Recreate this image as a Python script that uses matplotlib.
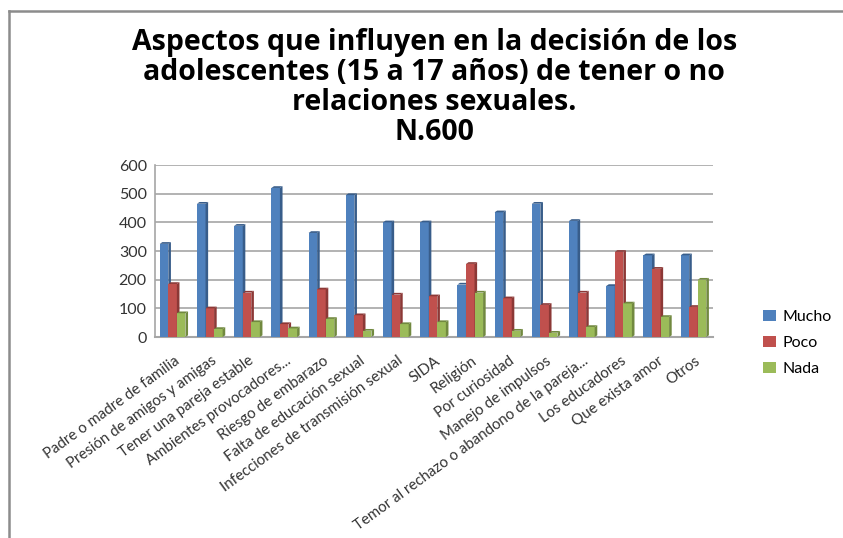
import matplotlib
matplotlib.use('Agg')
import matplotlib.pyplot as plt
from matplotlib.patches import Polygon
from matplotlib.lines import Line2D
import numpy as np

categories = ['Padre o madre de familia', 'Presión de amigos y amigas', 'Tener una pareja estable',
              'Ambientes provocadores...', 'Riesgo de embarazo', 'Falta de educación sexual',
              'Infecciones de transmisión sexual', 'SIDA', 'Religión', 'Por curiosidad',
              'Manejo de impulsos', 'Temor al rechazo o abandono de la pareja...',
              'Los educadores', 'Que exista amor', 'Otros']
mucho = [325, 465, 388, 520, 363, 495, 400, 400, 183, 435, 465, 405, 178, 285, 285]
poco = [185, 100, 155, 45, 166, 76, 148, 142, 255, 135, 112, 155, 297, 238, 105]
nada = [83, 28, 52, 30, 63, 22, 45, 52, 155, 22, 15, 35, 117, 70, 200]
series = ['Mucho', 'Poco', 'Nada']
yticks = [0, 100, 200, 300, 400, 500, 600]

colors = ['#4F81BD', '#C0504D', '#9BBB59']
dark = ['#385D8A', '#8C3836', '#71893F']

plt.rcParams['font.family'] = ['Lato', 'DejaVu Sans']

fig = plt.figure(figsize=(8.43, 5.38), dpi=100)
ax = fig.add_axes([0.184, 0.3736, 0.662, 0.3197])

x = np.arange(len(categories))
w = 0.23
d = 0.07   # depth offset (x)
dy = 6     # depth offset (y)
for k, (vals, c, dc) in enumerate(zip([mucho, poco, nada], colors, dark)):
    xs = x + (k - 1) * w - w / 2 - 0.03
    ax.bar(xs, vals, width=w, align='edge', color=c, edgecolor='none', zorder=3, label=series[k])
    for xi, h in zip(xs, vals):
        side = [(xi + w, 0), (xi + w + d, dy), (xi + w + d, h + dy), (xi + w, h)]
        top = [(xi, h), (xi + d, h + dy), (xi + w + d, h + dy), (xi + w, h)]
        ax.add_patch(Polygon(side, closed=True, color=dc, lw=0, zorder=3))
        ax.add_patch(Polygon(top, closed=True, color=dc, lw=0, zorder=3))

ax.set_xlim(-0.5, len(categories) - 0.5)
ax.set_ylim(0, 600)
ax.set_yticks(yticks)
ax.set_yticklabels([str(v) for v in yticks], fontsize=11.5, color='#333333')
ax.yaxis.grid(True, color='#A6A6A6', lw=1.2, zorder=0)
ax.set_axisbelow(True)
ax.tick_params(axis='both', length=0)
ax.tick_params(axis='y', pad=6)
for s in ['top', 'right']:
    ax.spines[s].set_visible(False)
ax.spines['left'].set_color('#A6A6A6')
ax.spines['bottom'].set_color('#A6A6A6')
ax.spines['left'].set_linewidth(1.2)
ax.spines['bottom'].set_linewidth(1.5)

ax.set_xticks(x)
ax.set_xticklabels(categories, rotation=36, ha='right', rotation_mode='anchor',
                   fontsize=10.8, color='#333333')
ax.tick_params(axis='x', pad=12)

fig.text(0.515, 0.838, 'Aspectos que influyen en la decisión de los\n'
         'adolescentes (15 a 17 años) de tener o no\nrelaciones sexuales.\nN.600',
         ha='center', va='center', fontsize=20.5, fontweight='bold', linespacing=1.05,
         family=['Open Sans', 'DejaVu Sans'])

fig.legend(loc='center left', bbox_to_anchor=(0.888, 0.362), frameon=False, fontsize=11.5,
           handlelength=0.8, handleheight=0.7, labelspacing=0.75, handletextpad=0.4)

fig.add_artist(Line2D([0.011, 0.011], [0, 0.98], color='#8C8C8C', lw=1.8, transform=fig.transFigure))
fig.add_artist(Line2D([0.011, 1.0], [0.98, 0.98], color='#8C8C8C', lw=1.8, transform=fig.transFigure))

fig.savefig('out.png', dpi=100)
